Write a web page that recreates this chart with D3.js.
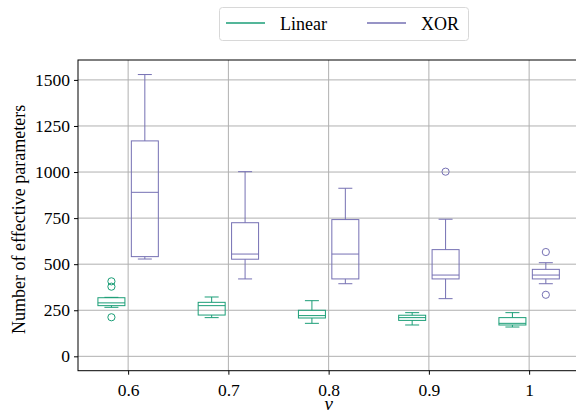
<!DOCTYPE html>
<html>
<head>
<meta charset="utf-8">
<script src="https://cdn.jsdelivr.net/npm/d3@7"></script>
<style>
  body { margin: 0; background: #fff; }
  svg text { font-family: "Liberation Serif", "DejaVu Serif", serif !important; fill: #000; }
</style>
</head>
<body>
<div class="chart"></div>
<script>
// categories (nu values) and tick labels
const nuLabels = ["0.6", "0.7", "0.8", "0.9", "1"];
const yTicks = [0, 250, 500, 750, 1000, 1250, 1500];
const seriesNames = ["Linear", "XOR"];
const seriesColors = ["#1b9e77", "#7570b3"];

// box stats per category: [lowWhisker, q1, median, q3, highWhisker]
const linearBoxes = [
  [266, 275, 290, 318, 320],
  [210, 224, 275, 293, 322],
  [179, 208, 221, 250, 302],
  [170, 195, 210, 223, 237],
  [159, 170, 179, 210, 237]
];
const xorBoxes = [
  [528, 541, 890, 1169, 1529],
  [420, 527, 555, 725, 1002],
  [394, 420, 555, 742, 912],
  [313, 420, 441, 579, 744],
  [394, 420, 441, 472, 508]
];
// outliers per category
const linearOutliers = [[407, 378, 212], [], [], [], []];
const xorOutliers = [[], [], [], [1002], [566, 334]];

const W = 576, H = 413;
const mLeft = 78, mRight = 579.25, mTop = 60, mBottom = 370.7;
const serif = "'Liberation Serif', 'DejaVu Serif', serif";

const svg = d3.select(".chart").append("svg")
    .attr("width", W)
    .attr("height", H);

const x = d3.scalePoint()
    .domain(nuLabels)
    .range([mLeft, mRight])
    .padding(0.5);
const step = x.step();

const y = d3.scaleLinear()
    .domain([-78, 1608])
    .range([mBottom, mTop]);

// grid
const grid = svg.append("g");
grid.selectAll(".gy").data(yTicks).enter().append("line")
    .attr("x1", mLeft).attr("x2", mRight)
    .attr("y1", d => y(d)).attr("y2", d => y(d))
    .attr("stroke", "#b0b0b0").attr("stroke-width", 1);
grid.selectAll(".gx").data(nuLabels).enter().append("line")
    .attr("x1", d => x(d)).attr("x2", d => x(d))
    .attr("y1", mTop).attr("y2", mBottom)
    .attr("stroke", "#b0b0b0").attr("stroke-width", 1);

// boxes
const boxW = 27, capW = 14;
const offsets = [-step / 6, step / 6];
const allBoxes = [linearBoxes, xorBoxes];
const allOutliers = [linearOutliers, xorOutliers];

allBoxes.forEach((boxes, s) => {
  const col = seriesColors[s];
  const g = svg.append("g")
      .attr("stroke", col)
      .attr("fill", "none")
      .attr("stroke-width", 1);
  boxes.forEach((b, i) => {
    const cx = x(nuLabels[i]) + offsets[s];
    // whiskers
    g.append("line").attr("x1", cx).attr("x2", cx).attr("y1", y(b[0])).attr("y2", y(b[1]));
    g.append("line").attr("x1", cx).attr("x2", cx).attr("y1", y(b[3])).attr("y2", y(b[4]));
    // caps
    g.append("line").attr("x1", cx - capW / 2).attr("x2", cx + capW / 2).attr("y1", y(b[0])).attr("y2", y(b[0]));
    g.append("line").attr("x1", cx - capW / 2).attr("x2", cx + capW / 2).attr("y1", y(b[4])).attr("y2", y(b[4]));
    // box
    g.append("rect")
        .attr("x", cx - boxW / 2).attr("width", boxW)
        .attr("y", y(b[3])).attr("height", y(b[1]) - y(b[3]));
    // median
    g.append("line").attr("x1", cx - boxW / 2).attr("x2", cx + boxW / 2).attr("y1", y(b[2])).attr("y2", y(b[2]));
    // outliers
    allOutliers[s][i].forEach(v => {
      g.append("circle").attr("cx", cx).attr("cy", y(v)).attr("r", 3.6);
    });
  });
});

// spines
svg.append("rect")
    .attr("x", mLeft).attr("y", mTop)
    .attr("width", mRight - mLeft).attr("height", mBottom - mTop)
    .attr("fill", "none").attr("stroke", "#000").attr("stroke-width", 1);

// axes
const xAxis = svg.append("g")
    .attr("transform", "translate(0," + mBottom + ")")
    .call(d3.axisBottom(x).tickSizeOuter(0).tickSize(4).tickPadding(9));
const yAxis = svg.append("g")
    .attr("transform", "translate(" + mLeft + ",0)")
    .call(d3.axisLeft(y).tickValues(yTicks).tickFormat(d3.format("d"))
      .tickSizeOuter(0).tickSize(4).tickPadding(4));
[xAxis, yAxis].forEach(a => {
  a.attr("font-family", serif).attr("font-size", 17.5);
  a.select(".domain").remove();
  a.selectAll(".tick line").attr("stroke", "#000");
});

// axis labels
svg.append("text")
    .attr("x", (mLeft + mRight) / 2).attr("y", 410)
    .attr("text-anchor", "middle")
    .attr("font-family", serif)
    .attr("font-size", 19).attr("font-style", "italic")
    .text("ν");
svg.append("text")
    .attr("transform", "translate(25," + ((mTop + mBottom) / 2 + 4) + ") rotate(-90)")
    .attr("text-anchor", "middle")
    .attr("font-family", serif)
    .attr("font-size", 18)
    .text("Number of effective parameters");

// legend
const lg = svg.append("g");
lg.append("rect")
    .attr("x", 219.5).attr("y", 7.5).attr("width", 249).attr("height", 33)
    .attr("rx", 3).attr("fill", "#fff").attr("stroke", "#d8d8d8");
const legX = [226, 367];
seriesNames.forEach((name, i) => {
  lg.append("line")
      .attr("x1", legX[i]).attr("x2", legX[i] + 39)
      .attr("y1", 23).attr("y2", 23)
      .attr("stroke", seriesColors[i]).attr("stroke-width", 1.5);
  lg.append("text")
      .attr("x", legX[i] + 54).attr("y", 29.5)
      .attr("font-family", serif)
      .attr("font-size", 18)
      .text(name);
});
</script>
</body>
</html>
